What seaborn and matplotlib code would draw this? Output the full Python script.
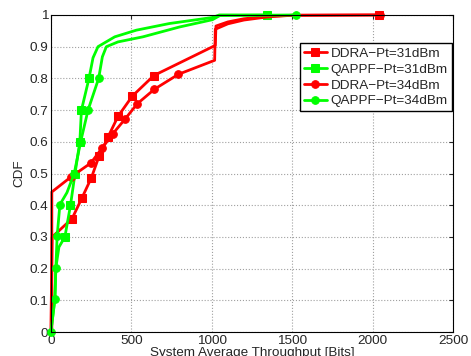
import numpy as np
import pandas as pd
import matplotlib
matplotlib.use('Agg')
import matplotlib.pyplot as plt
import seaborn as sns

# --- data (throughput in bits, CDF) ---
ddra31_x = [0, 8, 132, 194, 252, 299, 355, 417, 506, 640, 1022, 1026, 1100, 1200, 1350, 1500, 2040]
ddra31_y = [0, 0.30, 0.358, 0.424, 0.487, 0.554, 0.615, 0.68, 0.744, 0.809, 0.904, 0.965, 0.978, 0.988, 0.996, 0.999, 1.0]
ddra31_mk = [2, 3, 4, 5, 6, 7, 8, 9, 16]

qappf31_x = [0, 25, 31, 50, 87, 122, 150, 180, 190, 237, 262, 293, 397, 531, 737, 1004, 1047, 1346]
qappf31_y = [0, 0.105, 0.203, 0.268, 0.30, 0.40, 0.50, 0.60, 0.70, 0.80, 0.865, 0.90, 0.931, 0.952, 0.973, 0.992, 1.0, 1.0]
qappf31_mk = [4, 5, 6, 7, 8, 9, 17]

ddra34_x = [0, 6, 6, 124, 248, 318, 386, 463, 537, 644, 793, 1018, 1022, 1100, 1200, 1350, 1500, 2045]
ddra34_y = [0, 0, 0.442, 0.489, 0.533, 0.58, 0.626, 0.673, 0.72, 0.766, 0.813, 0.857, 0.955, 0.972, 0.984, 0.994, 0.999, 1.0]
ddra34_mk = [3, 4, 5, 6, 7, 8, 9, 10, 17]

qappf34_x = [0, 25, 31, 39, 56, 100, 145, 185, 231, 297, 320, 345, 417, 572, 799, 1004, 1050, 1522]
qappf34_y = [0, 0.105, 0.203, 0.303, 0.402, 0.44, 0.50, 0.60, 0.70, 0.80, 0.868, 0.90, 0.915, 0.931, 0.962, 0.985, 0.998, 1.0]
qappf34_mk = [0, 1, 2, 3, 4, 6, 7, 8, 9, 17]

labels = ['DDRA\u2212Pt=31dBm', 'QAPPF\u2212Pt=31dBm', 'DDRA\u2212Pt=34dBm', 'QAPPF\u2212Pt=34dBm']
x_ticks = [0, 500, 1000, 1500, 2000, 2500]
y_ticks = [0, 0.1, 0.2, 0.3, 0.4, 0.5, 0.6, 0.7, 0.8, 0.9, 1.0]

sns.set_style('white')
plt.rcParams['font.family'] = ['Liberation Sans', 'DejaVu Sans']
plt.rcParams['font.size'] = 9.7

fig, ax = plt.subplots(figsize=(4.71, 3.56), dpi=100)
fig.subplots_adjust(left=0.108, right=0.962, top=0.958, bottom=0.067)

series = [
    (ddra31_x, ddra31_y, ddra31_mk, '#ff0000', 's'),
    (qappf31_x, qappf31_y, qappf31_mk, '#00ff00', 's'),
    (ddra34_x, ddra34_y, ddra34_mk, '#ff0000', 'o'),
    (qappf34_x, qappf34_y, qappf34_mk, '#00ff00', 'o'),
]
for (xs, ys, mk, col, m), lab in zip(series, labels):
    d = pd.DataFrame({'x': xs, 'y': ys})
    sns.lineplot(data=d, x='x', y='y', ax=ax, estimator=None, sort=False,
                 color=col, lw=2, marker=m, markersize=5.5, markevery=mk,
                 markeredgecolor=col, markerfacecolor=col, label=lab, clip_on=False)

ax.set_xlim(0, 2500)
ax.set_ylim(0, 1)
ax.set_xticks(x_ticks)
ax.set_yticks(y_ticks)
ax.set_yticklabels([f'{v:g}' for v in y_ticks])
ax.grid(True, ls=':', color='#a0a0a0', lw=0.8)
ax.tick_params(direction='in', length=3, top=True, right=True, pad=2)
for s in ax.spines.values():
    s.set_color('black')
    s.set_linewidth(0.8)

ax.set_xlabel('System Average Throughput [Bits]', labelpad=0)
ax.set_ylabel('CDF', labelpad=3)

leg = ax.legend(loc='upper right', bbox_to_anchor=(0.997, 0.91), fancybox=False,
                framealpha=1, edgecolor='black', handlelength=1.7, handletextpad=0.3,
                borderpad=0.3, labelspacing=0.25, borderaxespad=0)
leg.get_frame().set_linewidth(1)

plt.savefig('out.png', dpi=100)
